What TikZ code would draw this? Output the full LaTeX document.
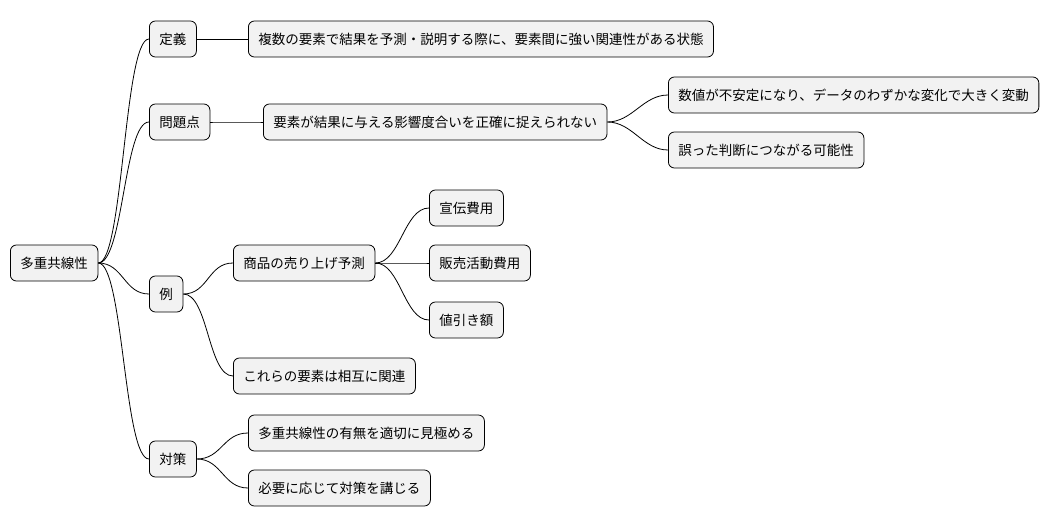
\documentclass[tikz,border=0pt]{standalone}
\usepackage{fontspec}
\setmainfont{Noto Sans CJK JP}
\begin{document}
\begin{tikzpicture}[x=1pt,y=-1pt,
  n/.style={draw=black,line width=0.8pt,fill=black!5,rounded corners=6pt,minimum height=36pt,inner xsep=10pt,font=\fontsize{13.5pt}{16pt}\selectfont,anchor=west},
  e/.style={draw=black,line width=0.8pt}]
\useasboundingbox (0,0) rectangle (1062,527);
\node[n] (r) at (10,263) {多重共線性};
\node[n] (a) at (149,39) {定義};
\node[n] (a1) at (248,39) {複数の要素で結果を予測・説明する際に、要素間に強い関連性がある状態};
\node[n] (b) at (149,122) {問題点};
\node[n] (b1) at (263,122) {要素が結果に与える影響度合いを正確に捉えられない};
\node[n] (b11) at (668,95) {数値が不安定になり、データのわずかな変化で大きく変動};
\node[n] (b12) at (668,150) {誤った判断につながる可能性};
\node[n] (c) at (149,294) {例};
\node[n] (c1) at (233,263) {商品の売り上げ予測};
\node[n] (c11) at (429,208) {宣伝費用};
\node[n] (c12) at (429,263) {販売活動費用};
\node[n] (c13) at (429,320) {値引き額};
\node[n] (c2) at (233,376) {これらの要素は相互に関連};
\node[n] (d) at (149,459) {対策};
\node[n] (d1) at (248,433) {多重共線性の有無を適切に見極める};
\node[n] (d2) at (248,488) {必要に応じて対策を講じる};
\foreach \p/\c in {r/a,r/b,r/c,r/d,a/a1,b/b1,b1/b11,b1/b12,c/c1,c/c2,c1/c11,c1/c12,c1/c13,d/d1,d/d2}
  \draw[e] (\p.east) .. controls ([xshift=25pt]\p.east) and ([xshift=-25pt]\c.west) .. (\c.west);
\end{tikzpicture}
\end{document}
